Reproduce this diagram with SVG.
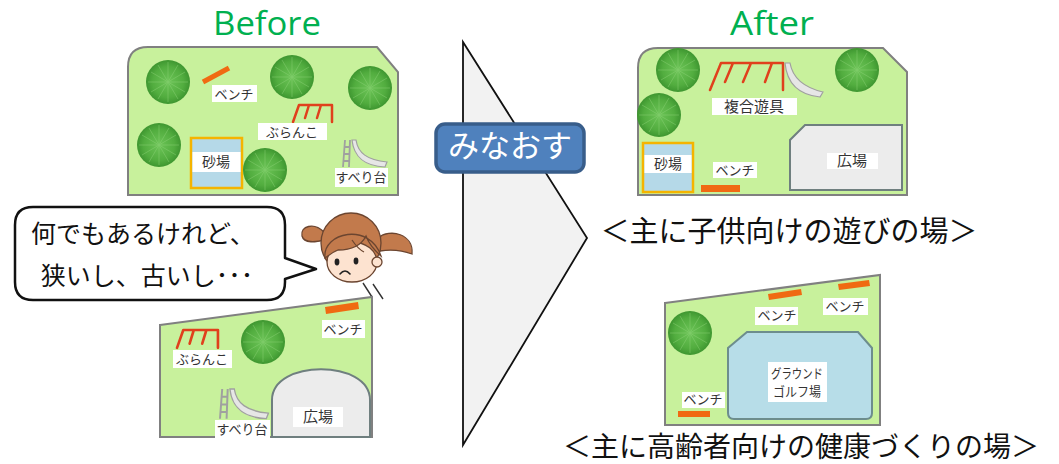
<svg xmlns="http://www.w3.org/2000/svg" xmlns:xlink="http://www.w3.org/1999/xlink" width="1059" height="464" viewBox="0 0 1059 464">
  <style>
    .park { fill: #c8f19c; stroke: #808080; stroke-width: 2; }
    .lbl { fill: #ffffff; }
    .t { font-family: "Noto Sans CJK JP", "Liberation Sans", sans-serif; fill: #333333; text-anchor: middle; }
    .s13 { font-size: 13px; }
    .title { font-family: "Open Sans", "Liberation Sans", sans-serif; font-size: 33px; fill: #00b050; text-anchor: middle; }
    .cap { font-family: "Noto Sans CJK JP", sans-serif; fill: #111111; text-anchor: middle; }
    .bench { fill: #f06a12; }
    .swing { fill: none; stroke: #e0401c; stroke-width: 2.5; stroke-linecap: round; stroke-linejoin: round; }
    .sandbox { fill: #b5d9e8; stroke: #f5b400; stroke-width: 2.5; }
    .plaza { fill: #ececec; stroke: #6f7f7f; stroke-width: 2; }
    .hair { fill: #c27a4c; stroke: #6b4530; stroke-width: 1.3; }
    .skin { fill: #fde3d0; stroke: #6b4530; stroke-width: 1.3; }
  </style>
  <defs>
    <radialGradient id="leaf" cx="0.5" cy="0.5" r="0.5">
      <stop offset="0" stop-color="#6cc457"/>
      <stop offset="0.7" stop-color="#52ad3f"/>
      <stop offset="1" stop-color="#3e9630"/>
    </radialGradient>
    <!-- round tree seen from above -->
    <g id="tree">
      <circle r="22" fill="url(#leaf)"/>
      <g stroke="#8fd47a" stroke-width="0.8" opacity="0.55">
        <path d="M0,0 L0,-20 M0,0 L10,-17 M0,0 L17,-10 M0,0 L20,0 M0,0 L17,10 M0,0 L10,17 M0,0 L0,20 M0,0 L-10,17 M0,0 L-17,10 M0,0 L-20,0 M0,0 L-17,-10 M0,0 L-10,-17"/>
      </g>
    </g>
    <!-- swing frame -->
    <path id="swing" class="swing" d="M0,17 L6,0 H39 V17 M16,0 L12,13 M16,0 H19 M28,0 L24,13 M28,0 H31"/>
    <!-- slide with ladder -->
    <g id="slide">
      <path d="M2,0 L0,27 M7,0 L6,27 M1,7 H7 M1,14 H7 M0,21 H6" stroke="#a0a0a0" stroke-width="1.8" fill="none"/>
      <path d="M9,0 L13,0 C15,13 24,20 44,22 L42,27 C22,26 11,18 9,0 Z" fill="#e6e6e6" stroke="#a0a0a0" stroke-width="1.2"/>
    </g>
  </defs>

  <!-- titles -->
  <text class="title" x="267" y="35" textLength="108" lengthAdjust="spacingAndGlyphs">Before</text>
  <text class="title" x="772" y="35" textLength="84" lengthAdjust="spacingAndGlyphs">After</text>

  <!-- current park (upper) -->
  <g id="park-before-1">
    <path class="park" d="M148,47 H377 L398,72 V195 H128 V67 Q128,47 148,47 Z"/>
    <use href="#tree" x="168" y="82"/>
    <use href="#tree" x="292" y="77"/>
    <use href="#tree" x="370" y="88"/>
    <use href="#tree" x="159" y="145"/>
    <line x1="203" y1="82" x2="229" y2="68" stroke="#f06a12" stroke-width="5"/>
    <rect class="lbl" x="212" y="85" width="45" height="17"/>
    <text class="t s13" x="234" y="98.5">ベンチ</text>
    <use href="#swing" x="293" y="105"/>
    <rect class="lbl" x="258" y="123" width="69" height="17"/>
    <text class="t s13" x="292" y="136.5">ぶらんこ</text>
    <rect class="sandbox" x="191" y="138" width="51" height="50"/>
    <rect class="lbl" x="192.5" y="152" width="48" height="20"/>
    <text class="t" x="216" y="167" font-size="14">砂場</text>
    <use href="#tree" x="265" y="170"/>
    <use href="#slide" x="343" y="140"/>
    <rect class="lbl" x="335" y="168" width="53" height="19"/>
    <text class="t s13" x="361" y="182">すべり台</text>
  </g>

  <!-- speech bubble -->
  <g id="bubble">
    <path d="M33,207 H267 Q285,207 285,225 V258 L316,269 L285,279 V282 Q285,300 267,300 H33 Q15,300 15,282 V225 Q15,207 33,207 Z" fill="#ffffff" stroke="#111111" stroke-width="2.5" stroke-linejoin="round"/>
    <text class="cap" x="143" y="243" font-size="25" text-anchor="middle">何でもあるけれど、</text>
    <text class="cap" x="147" y="285" font-size="25" text-anchor="middle">狭いし、古いし･･･</text>
  </g>

  <!-- girl -->
  <g id="girl">
    <path class="hair" d="M324,232 C314,222 300,226 302,236 C304,244 316,242 325,240 Z"/>
    <path class="hair" d="M378,238 C390,228 414,234 412,254 C404,251 392,249 380,251 Z"/>
    <circle class="hair" cx="351" cy="243" r="30"/>
    <ellipse class="skin" cx="352" cy="262" rx="25" ry="20"/>
    <circle class="skin" cx="377" cy="262" r="5"/>
    <path class="hair" d="M325,258 C322,232 370,222 381,256 C374,250 369,244 366,236 C361,246 351,250 338,250 C333,252 329,255 325,258 Z"/>
    <path d="M352,240 C356,246 360,250 364,252" stroke="#6b4530" stroke-width="1.2" fill="none"/>
    <ellipse cx="337" cy="262" rx="2.4" ry="3.4" fill="#222222"/>
    <ellipse cx="356" cy="261" rx="2.4" ry="3.4" fill="#222222"/>
    <path d="M340,274 Q345,268 350,274" stroke="#222222" stroke-width="1.6" fill="none" stroke-linecap="round"/>
    <path d="M363,283 L372,297 M373,284 L383,299" stroke="#333333" stroke-width="1.4" fill="none"/>
  </g>

  <!-- current park (lower) -->
  <g id="park-before-2">
    <path class="park" d="M160,325 L372,297 V437 H160 Z"/>
    <use href="#tree" x="263" y="342"/>
    <use href="#swing" x="177" y="330" transform="translate(-8.85,-16.5) scale(1.05)"/>
    <rect class="lbl" x="173" y="350" width="59" height="18"/>
    <text class="t s13" x="202" y="364">ぶらんこ</text>
    <path d="M325,307 L358,302 L359,309 L326,314 Z" class="bench"/>
    <rect class="lbl" x="322" y="320" width="43" height="18"/>
    <text class="t s13" x="343" y="334">ベンチ</text>
    <use href="#slide" x="220" y="389" transform="translate(-22,-38.9) scale(1.1)"/>
    <path class="plaza" d="M272,437 V400 C272,359 370,359 370,400 V437 Z" stroke="#505050"/>
    <rect class="lbl" x="293" y="407" width="50" height="20"/>
    <text class="t" x="318" y="422" font-size="15">広場</text>
    <rect class="lbl" x="215" y="420" width="55" height="18"/>
    <text class="t s13" x="242" y="434">すべり台</text>
  </g>

  <!-- transition arrow -->
  <g id="connectors">
    <path d="M463,42 L587,238 L463,445 Z" fill="#f2f2f2" stroke="#111111" stroke-width="1.8" stroke-linejoin="miter"/>
  </g>
  <g id="button">
    <rect x="436" y="124" width="148" height="48" rx="9" fill="#4f81bd" stroke="#385d8a" stroke-width="3.5"/>
    <text x="510" y="157" font-family="Noto Sans CJK JP, sans-serif" font-size="31" fill="#ffffff" text-anchor="middle">みなおす</text>
  </g>

  <!-- renewed park for children -->
  <g id="park-after-1">
    <path class="park" d="M658,48 H883 L907,72 V195 H638 V68 Q638,48 658,48 Z"/>
    <use href="#tree" x="678" y="70"/>
    <use href="#tree" x="659" y="115"/>
    <use href="#tree" x="857" y="70"/>
    <path class="swing" stroke-width="3" d="M710,90 L721,63 H783 V90 M733,63 L725,82 M733,63 H737 M751,63 L743,82 M751,63 H755 M772,63 L765,82 M772,63 H776"/>
    <path d="M785,63 L790,63 C793,80 806,88 823,92 L820,97 C800,95 787,84 785,63 Z" fill="#e6e6e6" stroke="#a0a0a0" stroke-width="1.2"/>
    <rect class="lbl" x="712" y="98" width="85" height="17"/>
    <text class="t" x="754" y="112" font-size="15">複合遊具</text>
    <path class="plaza" d="M805,125 H902 V190 H790 V140 Z"/>
    <rect class="lbl" x="827" y="153" width="51" height="16"/>
    <text class="t" x="852" y="166" font-size="15">広場</text>
    <rect class="sandbox" x="643" y="143" width="50" height="49"/>
    <rect class="lbl" x="644.5" y="155" width="47" height="18"/>
    <text class="t" x="668" y="169" font-size="14">砂場</text>
    <rect class="lbl" x="713" y="162" width="44" height="16"/>
    <text class="t s13" x="735" y="175">ベンチ</text>
    <rect class="bench" x="701" y="185" width="39" height="7"/>
  </g>
  <text class="cap" x="789" y="242" font-size="29">＜主に子供向けの遊びの場＞</text>

  <!-- renewed park for seniors -->
  <g id="park-after-2">
    <path class="park" d="M665,303 L880,275 V425 H665 Z"/>
    <use href="#tree" x="690" y="333"/>
    <path class="bench" d="M768,294 L801,289 L802,295 L769,300 Z"/>
    <rect class="lbl" x="755" y="307" width="43" height="18"/>
    <text class="t s13" x="777" y="320">ベンチ</text>
    <path class="bench" d="M838,284 L869,280 L870,286 L839,290 Z"/>
    <rect class="lbl" x="823" y="298" width="45" height="17"/>
    <text class="t s13" x="845" y="311">ベンチ</text>
    <path d="M747,332 H858 L872,348 V413 Q872,419 866,419 H734 Q728,419 728,413 V348 Z" fill="#b7dde8" stroke="#6d8d8d" stroke-width="2"/>
    <rect class="lbl" x="768" y="362" width="59" height="40"/>
    <text class="t s13" x="797" y="378" textLength="52" lengthAdjust="spacingAndGlyphs">グラウンド</text>
    <text class="t s13" x="797" y="396" textLength="48" lengthAdjust="spacingAndGlyphs">ゴルフ場</text>
    <rect class="lbl" x="682" y="392" width="43" height="16"/>
    <text class="t s13" x="703" y="404">ベンチ</text>
    <rect class="bench" x="678" y="411" width="32" height="6"/>
  </g>
  <text class="cap" x="801" y="457" font-size="28">＜主に高齢者向けの健康づくりの場＞</text>
</svg>
